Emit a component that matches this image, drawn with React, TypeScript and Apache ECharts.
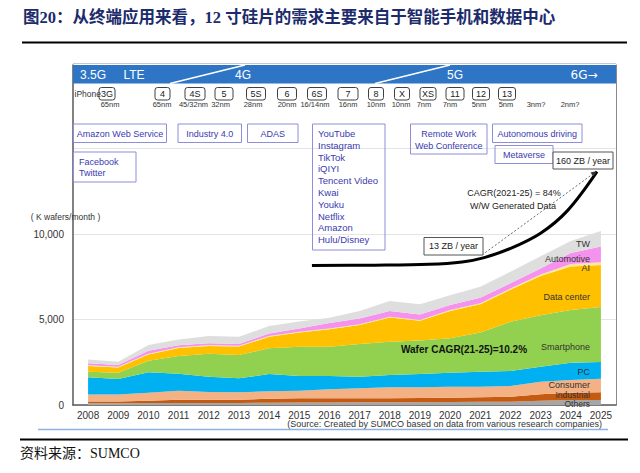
import React, { useEffect, useRef } from 'react';
import * as echarts from 'echarts';

// ---------- data ----------
const years = ['2008','2009','2010','2011','2012','2013','2014','2015','2016','2017','2018','2019','2020','2021','2022','2023','2024','2025'];
// K wafers / month, per application (stacked bottom -> top)
const others     = [100,100,110,120,120,120,130,140,150,155,160,165,175,185,195,250,290,290];
const industrial = [100,100,140,190,180,180,230,250,250,235,240,245,255,265,290,375,430,450];
const consumer   = [420,420,470,530,460,440,440,450,520,585,635,625,640,620,625,735,740,800];
const pc         = [1000,900,1190,990,900,820,1010,860,780,685,720,775,820,880,880,880,1010,970];
const smartphone = [330,370,680,1040,1340,1360,1505,1710,1710,1910,1945,1970,2010,2300,2880,3020,3085,3220];
const dataCenter = [330,310,360,460,460,500,675,830,1020,1110,1420,1150,1600,1640,1880,2290,2545,2470];
const ai         = [40,40,50,50,50,50,50,50,50,40,45,40,55,60,70,90,150,150];
const automotive = [130,100,180,110,100,100,150,190,320,350,335,330,295,330,300,350,650,930];
const tw         = [220,190,330,350,425,420,430,410,300,430,580,600,580,640,680,710,700,910];

const layerNames = ['Others','Industrial','Consumer','PC','Smartphone','Data center','AI','Automotive','TW'];
const layerValues = [others, industrial, consumer, pc, smartphone, dataCenter, ai, automotive, tw];
const layerColors = ['#A6A6A6','#C55A11','#F4B183','#00B0F0','#92D050','#FFC000','#FFE699','#F592EE','#DEDEDE'];

// W/W generated data curve (stylised, ZB/year)
const curveYears = [2015.42, 2017.5, 2019.3, 2020.4, 2021.1, 2022.0, 2023.0, 2023.9, 2024.87];
const curveValues = [0, 0.5, 2, 6, 13, 29, 55, 94, 160];

const yTickLabels = ['0', '5,000', '10,000'];

const networks = ['3.5G', 'LTE', '4G', '5G', '6G→'];
const iphoneModels = ['3G','4','4S','5','5S','6','6S','7','8','X','XS','11','12','13'];
const processNodes = ['65nm','65nm','45/32nm','32nm','28nm','20nm','16/14nm','16nm','10nm','10nm','7nm','7nm','5nm','5nm','3nm?','2nm?'];
const streamingApps = ['YouTube','Instagram','TikTok','iQIYI','Tencent Video','Kwai','Youku','Netflix','Amazon','Hulu/Disney'];

// ---------- layout (positions only) ----------
const networkX = [93, 134, 243, 455, 584];
const modelBoxes: [number, number][] = [[107,16],[162.5,15],[195,20],[224,18],[256,19],[287,19],[317,19],[348,20],[376,15],[402,15],[428,16],[455,18],[481,17],[507,17]];
const nodeX = [110, 162, 193.5, 220.5, 253, 287, 315, 348, 376, 401, 424, 450, 479, 506, 536, 570];

const SANS = "'Liberation Sans Narrow', 'Liberation Sans', Arial, sans-serif";
const PURPLE_TXT = '#3A3AB0';
const PURPLE_BORDER = '#8E8EDA';

function text(x: number, y: number, t: string, o: any = {}) {
  return {
    type: 'text', x, y, z: 100, silent: true,
    style: {
      text: t,
      fill: o.fill ?? '#333',
      fontFamily: o.family ?? SANS,
      fontSize: o.size ?? 9,
      fontWeight: o.weight ?? 'normal',
      align: o.align ?? 'center',
      verticalAlign: 'middle',
    },
  };
}
function rect(x: number, y: number, w: number, h: number, o: any = {}) {
  return {
    type: 'rect', z: o.z ?? 99, silent: true,
    shape: { x, y, width: w, height: h, r: o.r ?? 0 },
    style: { fill: o.fill ?? 'transparent', stroke: o.stroke ?? PURPLE_BORDER, lineWidth: o.lw ?? 1 },
  };
}
function line(x1: number, y1: number, x2: number, y2: number, o: any = {}) {
  return {
    type: 'line', z: o.z ?? 100, silent: true,
    shape: { x1, y1, x2, y2 },
    style: { stroke: o.stroke ?? '#000', lineWidth: o.lw ?? 1, lineDash: o.dash },
  };
}

function buildGraphics() {
  const g: any[] = [];
  // title
  g.push(text(23, 17, '图20：从终端应用来看，12 寸硅片的需求主要来自于智能手机和数据中心', {
    align: 'left', size: 16.5, weight: 'bold', fill: '#1B2B6B', family: "'Liberation Serif', 'Noto Sans CJK SC', serif",
  }));
  g.push(line(22, 42.5, 627, 42.5, { lw: 2 }));
  // banner
  g.push(line(73, 63.5, 616, 63.5, { stroke: '#C8C8C8', lw: 1, z: 97 }));
  g.push(rect(73, 65, 543, 18.5, { fill: '#2E75C6', stroke: 'none', lw: 0, z: 98 }));
  g.push(line(170, 83.5, 245, 65, { stroke: '#fff', lw: 1.5 }));
  g.push(line(375, 83.5, 450, 65, { stroke: '#fff', lw: 1.5 }));
  networks.forEach((n, i) => g.push(text(networkX[i], 74.5, n, {
    fill: '#fff', size: 12, family: n.includes('→') ? "'DejaVu Sans', sans-serif" : "'Liberation Sans', Arial, sans-serif",
  })));
  // iPhone row
  g.push(text(74.5, 93.5, 'iPhone', { align: 'left', size: 8.5 }));
  iphoneModels.forEach((m, i) => {
    const [cx, w] = modelBoxes[i];
    g.push(rect(cx - w / 2, 87.5, w, 12.5, { stroke: '#404040', fill: '#fff', r: 2.5 }));
    g.push(text(cx, 94, m, { size: 9, fill: '#222' }));
  });
  processNodes.forEach((p, i) => g.push(text(nodeX[i], 104.5, p, { size: 7.5, fill: '#333' })));
  // application boxes
  g.push(rect(73.5, 124, 93, 18.5));
  g.push(text(120, 133.5, 'Amazon Web Service', { fill: PURPLE_TXT }));
  g.push(rect(178, 124, 63.5, 18.5));
  g.push(text(209.7, 133.5, 'Industry 4.0', { fill: PURPLE_TXT }));
  g.push(rect(247.5, 124, 50.5, 18.5));
  g.push(text(272.7, 133.5, 'ADAS', { fill: PURPLE_TXT }));
  g.push(rect(312.5, 124, 72.5, 126));
  streamingApps.forEach((a, i) => g.push(text(318, 133.5 + i * 11.8, a, { align: 'left', fill: PURPLE_TXT, size: 9.5 })));
  g.push(rect(410.5, 124, 76.5, 30));
  g.push(text(448.7, 133.7, 'Remote Work', { fill: PURPLE_TXT }));
  g.push(text(448.7, 145.5, 'Web Conference', { fill: PURPLE_TXT }));
  g.push(rect(492.5, 124, 89.5, 18.5));
  g.push(text(537.2, 133.5, 'Autonomous driving', { fill: PURPLE_TXT }));
  g.push(rect(495, 145.5, 58, 18));
  g.push(text(524, 154.5, 'Metaverse', { fill: PURPLE_TXT }));
  g.push(rect(73.5, 152, 62.5, 30));
  g.push(text(79, 161.5, 'Facebook', { align: 'left', fill: PURPLE_TXT }));
  g.push(text(79, 173, 'Twitter', { align: 'left', fill: PURPLE_TXT }));
  // ZB annotations
  g.push(rect(553, 152, 60, 17, { stroke: '#555', fill: '#fff' }));
  g.push(text(583, 160.5, '160 ZB / year', { fill: '#222' }));
  g.push(rect(424, 237.5, 59, 17.5, { stroke: '#555', fill: '#fff' }));
  g.push(text(453.5, 246.3, '13 ZB / year', { fill: '#222' }));
  g.push(line(482, 255, 593.5, 173.5, { stroke: '#444', lw: 0.8, dash: [2, 2], z: 95 }));
  g.push({ type: 'polygon', z: 96, silent: true, shape: { points: [[597, 171], [590.5, 172.5], [593.5, 176.5]] }, style: { fill: '#333' } });
  g.push(text(514, 192.5, 'CAGR(2021-25) = 84%', { fill: '#222' }));
  g.push(text(513, 206, 'W/W Generated Data', { fill: '#222' }));
  // layer labels
  const lblY = [403.5, 394.5, 385, 372, 347, 297, 268, 258.5, 244];
  const lblSize = [8.5, 8.5, 9, 9, 9, 9, 9, 9, 9];
  layerNames.forEach((n, i) => g.push(text(590, lblY[i], n, { align: 'right', size: lblSize[i], fill: '#333' })));
  g.push(text(464, 349, 'Wafer CAGR(21-25)=10.2%', { size: 10, weight: 'bold', fill: '#111' }));
  // axis caption + footer
  g.push(text(65.5, 216.5, '( K wafers/month )', { size: 8.5, fill: '#333' }));
  g.push(text(602, 424, '(Source: Created by SUMCO based on data from various research companies)', { align: 'right', size: 9, fill: '#333' }));
  g.push(line(38, 429.5, 608, 429.5, { stroke: '#8DB3E2', lw: 1.5 }));
  g.push(line(20, 439.5, 628, 439.5, { lw: 2 }));
  g.push(text(20, 453.5, '资料来源：SUMCO', { align: 'left', size: 14, fill: '#111', family: "'Liberation Serif', 'Noto Sans CJK SC', serif" }));
  return g;
}

export default function App() {
  const ref = useRef<HTMLDivElement>(null);
  useEffect(() => {
    const chart = echarts.init(ref.current!, null, { renderer: 'svg' });
    const areaSeries = layerNames.map((name, i) => ({
      name,
      type: 'line',
      stack: 'wafers',
      data: layerValues[i],
      symbol: 'none',
      lineStyle: { width: 0 },
      areaStyle: { color: layerColors[i], opacity: 1 },
      itemStyle: { color: layerColors[i] },
      z: 2,
    }));
    chart.setOption({
      animation: false,
      backgroundColor: '#fff',
      grid: { left: 73, right: 24, top: 65, bottom: 68, containLabel: false },
      xAxis: [
        {
          type: 'category', data: years, boundaryGap: true,
          axisLine: { show: true, lineStyle: { color: '#595959', width: 1.5 } },
          axisTick: { show: false },
          axisLabel: { color: '#333', fontSize: 10, fontFamily: SANS, margin: 5 },
          splitLine: { show: false },
        },
        { type: 'value', min: 2007.5, max: 2025.5, show: false },
      ],
      yAxis: [
        {
          type: 'value', min: 0, max: 19900, interval: 5000,
          axisLine: { show: true, lineStyle: { color: '#595959', width: 1.5 } },
          axisTick: { show: false },
          axisLabel: {
            color: '#333', fontSize: 10, fontFamily: SANS, margin: 9,
            formatter: (v: number) => (v <= 10000 ? yTickLabels[Math.round(v / 5000)] : ''),
          },
          splitLine: { show: true, lineStyle: { color: '#E4E4E4', width: 1 } },
        },
        {
          type: 'value', min: -238, max: 342, position: 'right',
          axisLine: { show: true, onZero: false, lineStyle: { color: '#8A8A8A', width: 1 } },
          axisTick: { show: false }, axisLabel: { show: false }, splitLine: { show: false },
        },
      ],
      series: [
        ...areaSeries,
        {
          name: 'W/W Generated Data',
          type: 'line', xAxisIndex: 1, yAxisIndex: 1,
          data: curveYears.map((y, i) => [y, curveValues[i]]),
          smooth: 0.35, symbol: 'none',
          lineStyle: { color: '#000', width: 3 },
          z: 5,
        },
      ],
      graphic: buildGraphics(),
    });
    return () => chart.dispose();
  }, []);
  return <div ref={ref} style={{ position: 'fixed', left: 0, top: 0, width: 640, height: 473, background: '#fff' }} />;
}
